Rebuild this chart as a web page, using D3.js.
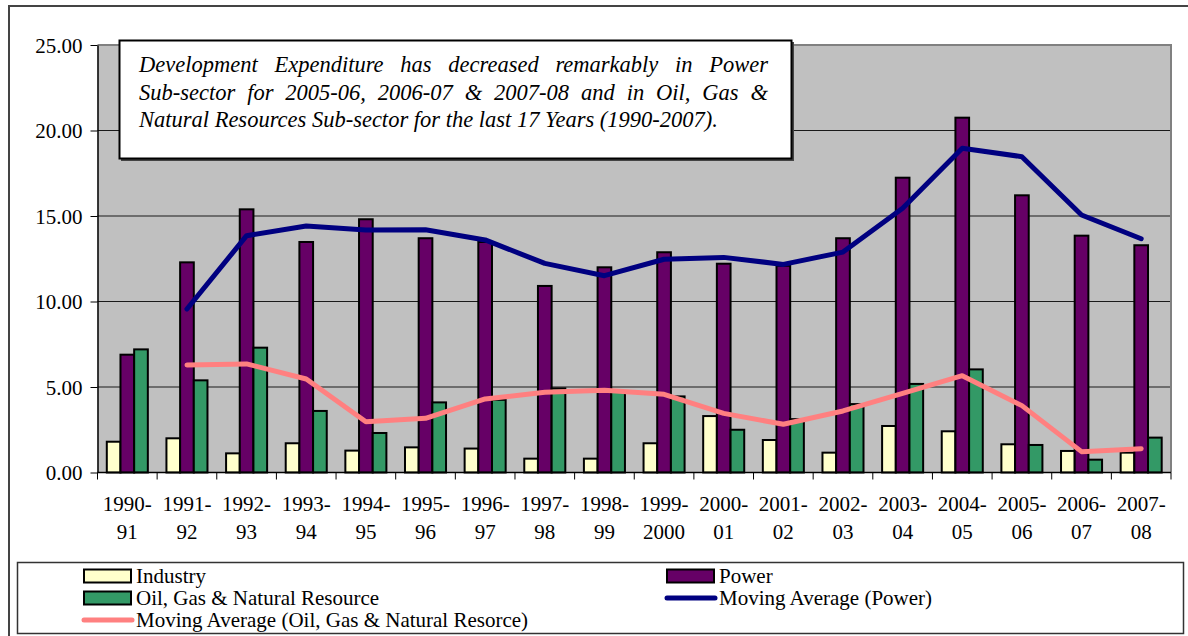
<!DOCTYPE html>
<html lang="en">
<head>
<meta charset="utf-8">
<title>Development Expenditure by Sub-sector</title>
<script src="https://d3js.org/d3.v7.min.js"></script>
<style>
  body { margin: 0; background: #fff; }
  svg text { font-family: "Liberation Serif", "Times New Roman", Tinos, "DejaVu Serif", "Noto Serif", serif; fill: #000; }
</style>
</head>
<body>
<script>
// data
var categories = ["1990-91", "1991-92", "1992-93", "1993-94", "1994-95", "1995-96", "1996-97",
  "1997-98", "1998-99", "1999-2000", "2000-01", "2001-02", "2002-03", "2003-04", "2004-05",
  "2005-06", "2006-07", "2007-08"];
var industry = [1.80, 2.00, 1.12, 1.71, 1.28, 1.47, 1.40, 0.81, 0.81, 1.71, 3.30, 1.90, 1.16, 2.72, 2.41, 1.65, 1.26, 1.16];
var power = [6.89, 12.29, 15.39, 13.48, 14.81, 13.70, 13.48, 10.91, 12.00, 12.88, 12.21, 12.09, 13.70, 17.24, 20.75, 16.21, 13.85, 13.29];
var oilGas = [7.20, 5.39, 7.30, 3.60, 2.31, 4.10, 4.25, 4.92, 4.75, 4.45, 2.50, 3.12, 4.00, 5.18, 6.03, 1.61, 0.75, 2.04];
var maPower = [null, 9.56, 13.85, 14.42, 14.18, 14.20, 13.60, 12.23, 11.51, 12.47, 12.58, 12.17, 12.89, 15.45, 18.96, 18.47, 15.06, 13.67];
var maOil = [null, 6.29, 6.35, 5.47, 2.97, 3.17, 4.30, 4.69, 4.81, 4.57, 3.46, 2.82, 3.60, 4.63, 5.66, 3.91, 1.22, 1.39];
var yTicks = [0, 5, 10, 15, 20, 25];

var barSeries = [
  {name: "Industry", values: industry, color: "#FFFFCC"},
  {name: "Power", values: power, color: "#660066"},
  {name: "Oil, Gas & Natural Resource", values: oilGas, color: "#339966"}
];
var lineSeries = [
  {name: "Moving Average (Power)", values: maPower, color: "#000080"},
  {name: "Moving Average (Oil, Gas & Natural Resorce)", values: maOil, color: "#FF8080"}
];

var width = 1188, height = 636;
var plot = {left: 97.5, right: 1171, top: 45, bottom: 472.5};
var serif = '"Liberation Serif", "Times New Roman", Tinos, "DejaVu Serif", "Noto Serif", serif';

var svg = d3.select("body").append("svg")
  .attr("width", width)
  .attr("height", height)
  .attr("font-family", serif);

// outer frame (runs off the right and bottom edge)
svg.append("path")
  .attr("d", "M9," + (height + 5) + "V6H" + (width + 5))
  .attr("fill", "none")
  .attr("stroke", "#444")
  .attr("stroke-width", 2);

var x = d3.scaleBand().domain(categories).range([plot.left, plot.right]);
var xs = d3.scaleBand().domain(barSeries.map(function(s){ return s.name; }))
  .range([0, x.bandwidth()]).paddingOuter(0.68);
var y = d3.scaleLinear().domain([0, 25]).range([plot.bottom, plot.top]);

// plot background
svg.append("rect")
  .attr("x", plot.left).attr("y", plot.top)
  .attr("width", plot.right - plot.left).attr("height", plot.bottom - plot.top)
  .attr("fill", "#C0C0C0");

// gridlines
svg.append("g").selectAll("line")
  .data(yTicks.filter(function(d){ return d > 0 && d < 25; }))
  .enter().append("line")
  .attr("x1", plot.left).attr("x2", plot.right)
  .attr("y1", function(d){ return y(d); }).attr("y2", function(d){ return y(d); })
  .attr("stroke", "#1a1a1a").attr("stroke-width", 1);

// plot border top/right (gray)
svg.append("path")
  .attr("d", "M" + plot.left + "," + plot.top + "H" + plot.right + "V" + plot.bottom)
  .attr("fill", "none").attr("stroke", "#808080").attr("stroke-width", 2);

// bars
var groups = svg.append("g").selectAll("g")
  .data(barSeries).enter().append("g");
groups.selectAll("rect")
  .data(function(s){ return s.values.map(function(v, i){ return {s: s, v: v, c: categories[i]}; }); })
  .enter().append("rect")
  .attr("x", function(d){ return x(d.c) + xs(d.s.name); })
  .attr("width", xs.bandwidth())
  .attr("y", function(d){ return y(d.v); })
  .attr("height", function(d){ return y(0) - y(d.v); })
  .attr("fill", function(d){ return d.s.color; })
  .attr("stroke", "#000")
  .attr("stroke-width", 2);

// moving average lines
var line = d3.line()
  .defined(function(d){ return d.v != null; })
  .x(function(d){ return x(d.c) + x.bandwidth() / 2; })
  .y(function(d){ return y(d.v); });
svg.append("g").selectAll("path")
  .data(lineSeries).enter().append("path")
  .attr("d", function(s){ return line(s.values.map(function(v, i){ return {v: v, c: categories[i]}; })); })
  .attr("fill", "none")
  .attr("stroke", function(s){ return s.color; })
  .attr("stroke-width", 5)
  .attr("stroke-linejoin", "round")
  .attr("stroke-linecap", "round");

// y axis
var yAxis = svg.append("g")
  .attr("transform", "translate(" + plot.left + ",0)")
  .call(d3.axisLeft(y).tickValues(yTicks).tickFormat(d3.format(".2f")).tickSize(7).tickSizeOuter(0).tickPadding(8))
  .attr("font-family", serif)
  .attr("font-size", 21);
yAxis.select(".domain").attr("stroke", "#000").attr("stroke-width", 1.5);
yAxis.selectAll(".tick line").attr("stroke", "#000");
yAxis.selectAll("text").attr("dy", "0.35em");

// x axis line and boundary ticks
svg.append("line")
  .attr("x1", plot.left).attr("x2", plot.right)
  .attr("y1", plot.bottom).attr("y2", plot.bottom)
  .attr("stroke", "#000").attr("stroke-width", 1.5);
var bounds = categories.map(function(c){ return x(c); }).concat([plot.right]);
svg.append("g").selectAll("line")
  .data(bounds).enter().append("line")
  .attr("x1", function(d){ return d; }).attr("x2", function(d){ return d; })
  .attr("y1", plot.bottom).attr("y2", plot.bottom + 7)
  .attr("stroke", "#000").attr("stroke-width", 1);

var xl = svg.append("g").selectAll("text")
  .data(categories).enter().append("text")
  .attr("text-anchor", "middle")
  .attr("font-size", 21);
xl.append("tspan")
  .attr("x", function(c){ return x(c) + x.bandwidth() / 2; })
  .attr("y", 511)
  .text(function(c){ return c.slice(0, c.indexOf("-") + 1); });
xl.append("tspan")
  .attr("x", function(c){ return x(c) + x.bandwidth() / 2; })
  .attr("y", 538.5)
  .text(function(c){ return c.slice(c.indexOf("-") + 1); });

// annotation box
svg.append("rect")
  .attr("x", 121).attr("y", 42).attr("width", 673).attr("height", 119)
  .attr("fill", "#444");
svg.append("rect")
  .attr("x", 119.5).attr("y", 40.5).attr("width", 672).attr("height", 118)
  .attr("fill", "#fff").attr("stroke", "#000").attr("stroke-width", 2);
var note = [
  "Development Expenditure has decreased remarkably in Power",
  "Sub-sector for 2005-06, 2006-07 & 2007-08 and in Oil, Gas &",
  "Natural Resources Sub-sector for the last 17 Years (1990-2007)."
];
svg.append("g").selectAll("text")
  .data(note).enter().append("text")
  .attr("x", 139)
  .attr("y", function(d, i){ return [72, 99.5, 127][i]; })
  .attr("font-size", 22.5)
  .attr("font-style", "italic")
  .text(function(d){ return d; })
  .each(function(d, i){
    // justify the first two lines by widening word gaps
    if (i < 2) {
      var gaps = d.split(" ").length - 1;
      var extra = (629 - this.getComputedTextLength()) / gaps;
      d3.select(this).attr("word-spacing", extra);
    }
  });

// legend
svg.append("rect")
  .attr("x", 17.5).attr("y", 562.5).attr("width", 1166).attr("height", 71)
  .attr("fill", "#fff").attr("stroke", "#333").attr("stroke-width", 1.5);
var legendItems = [
  {s: barSeries[0], type: "bar", x: 83, row: 0},
  {s: barSeries[1], type: "bar", x: 666, row: 0},
  {s: barSeries[2], type: "bar", x: 83, row: 1},
  {s: lineSeries[0], type: "line", x: 666, row: 1},
  {s: lineSeries[1], type: "line", x: 83, row: 2}
];
var lg = svg.append("g").selectAll("g")
  .data(legendItems).enter().append("g")
  .attr("transform", function(d){ return "translate(" + d.x + "," + (576 + d.row * 22) + ")"; });
lg.filter(function(d){ return d.type === "bar"; }).append("rect")
  .attr("x", 1).attr("y", -6.5).attr("width", 47).attr("height", 13)
  .attr("fill", function(d){ return d.s.color; })
  .attr("stroke", "#000").attr("stroke-width", 2);
lg.filter(function(d){ return d.type === "line"; }).append("line")
  .attr("x1", 1).attr("x2", 49).attr("y1", 0).attr("y2", 0)
  .attr("stroke", function(d){ return d.s.color; })
  .attr("stroke-width", 5).attr("stroke-linecap", "round");
lg.append("text")
  .attr("x", 53).attr("y", 7)
  .attr("font-size", 21)
  .text(function(d){ return d.s.name; });
</script>
</body>
</html>
